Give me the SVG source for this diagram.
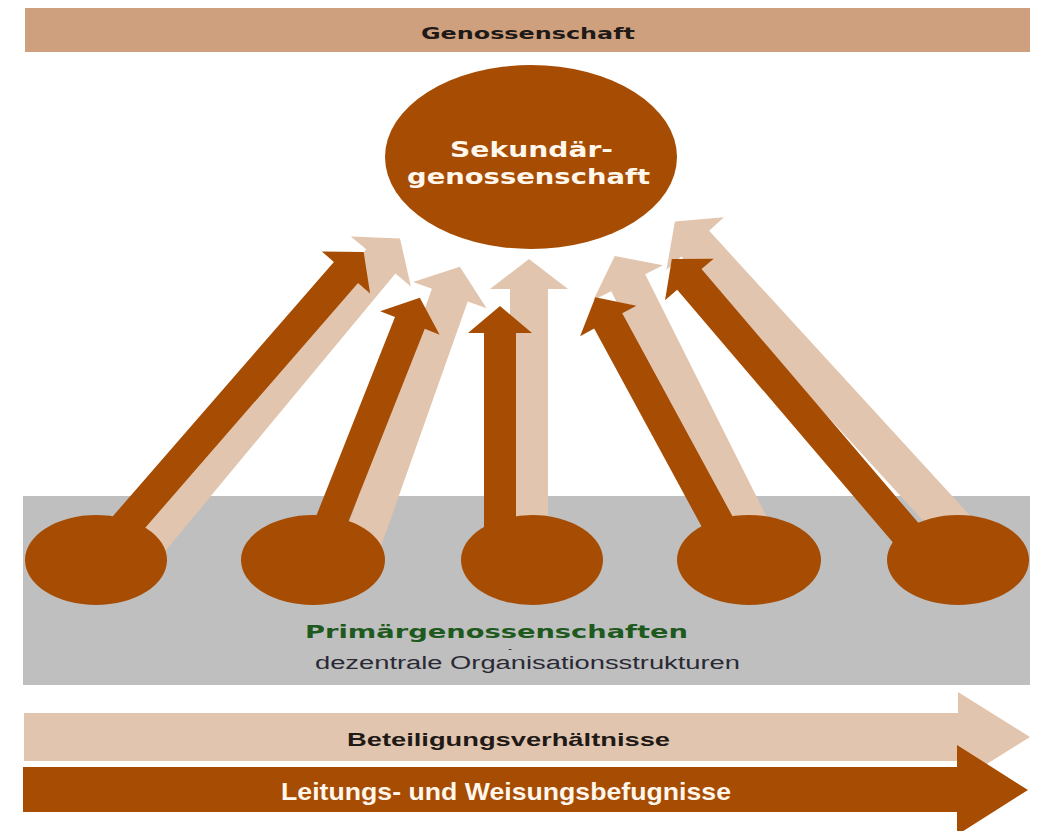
<svg xmlns="http://www.w3.org/2000/svg" width="1046" height="831" viewBox="0 0 1046 831">
<style>
.dark{fill:#A74C03}
.light{fill:#E2C5AE}
.node{fill:#A74C03}
.lbl{font-family:"DejaVu Sans","Liberation Sans",sans-serif;font-weight:bold;text-anchor:middle}
.arial{font-family:"Liberation Sans",Arial,sans-serif;text-anchor:middle}
</style>
<rect x="0" y="0" width="1046" height="831" fill="#ffffff"/>
<g id="genossenschaft">
<rect x="25" y="8" width="1005" height="44" fill="#CFA07D"/>
<text class="lbl" x="528" y="39" font-size="15" fill="#1f1a17" textLength="214" lengthAdjust="spacingAndGlyphs">Genossenschaft</text>
</g>
<g id="primaer-bereich">
<rect x="23" y="496" width="1007" height="189" fill="#BFBFBF"/>
</g>
<g id="connectors">
<polygon class="light" transform="translate(133,560) rotate(-50.3)" points="0,-19 388,-19 388,-39 418,0 388,39 388,19 0,19"/>
<polygon class="light" transform="translate(356,560) rotate(-70.5)" points="0,-19 281,-19 281,-39 311,0 281,39 281,19 0,19"/>
<polygon class="light" transform="translate(529,560) rotate(-90)" points="0,-19 271,-19 271,-39 301,0 271,39 271,19 0,19"/>
<polygon class="light" transform="translate(767,560) rotate(-116.6)" points="0,-19 310,-19 310,-39 340,0 310,39 310,19 0,19"/>
<polygon class="light" transform="translate(985,560) rotate(-132.5)" points="0,-19 429,-19 429,-39 459,0 429,39 429,19 0,19"/>
<polygon class="dark" transform="translate(96,560) rotate(-49)" points="0,-16 381,-16 381,-32 408,0 381,32 381,16 0,16"/>
<polygon class="dark" transform="translate(316,560) rotate(-68.4)" points="0,-16 255,-16 255,-32 282,0 255,32 255,16 0,16"/>
<polygon class="dark" transform="translate(500,560) rotate(-90)" points="0,-16 227,-16 227,-32 254,0 227,32 227,16 0,16"/>
<polygon class="dark" transform="translate(738,560) rotate(-118.5)" points="0,-16 272,-16 272,-32 299,0 272,32 272,16 0,16"/>
<polygon class="dark" transform="translate(929,560) rotate(-130.5)" points="0,-16 369,-16 369,-32 396,0 369,32 369,16 0,16"/>
</g>
<g id="sekundaergenossenschaft">
<ellipse class="node" cx="531" cy="157" rx="146" ry="92"/>
<text class="lbl" x="531.5" y="157" font-size="21" fill="#FFF6EC" textLength="163" lengthAdjust="spacingAndGlyphs">Sekundär-</text>
<text class="lbl" x="528.5" y="184" font-size="21" fill="#FFF6EC" textLength="243" lengthAdjust="spacingAndGlyphs">genossenschaft</text>
</g>
<g id="primaer-1"><ellipse class="node" cx="96" cy="560" rx="71" ry="45"/></g>
<g id="primaer-2"><ellipse class="node" cx="313" cy="560" rx="72" ry="45"/></g>
<g id="primaer-3"><ellipse class="node" cx="532" cy="560" rx="71" ry="45"/></g>
<g id="primaer-4"><ellipse class="node" cx="749" cy="560" rx="72" ry="45"/></g>
<g id="primaer-5"><ellipse class="node" cx="958" cy="560" rx="71" ry="45"/></g>
<g id="primaer-label">
<text class="lbl" x="496.5" y="638" font-size="18" fill="#1E5A1E" textLength="383" lengthAdjust="spacingAndGlyphs">Primärgenossenschaften</text>
<text class="arial" x="510" y="652" font-size="11" fill="#2a2a35">-</text>
<text class="arial" x="527.5" y="669" font-size="18" fill="#2a2a35" textLength="425" lengthAdjust="spacingAndGlyphs">dezentrale Organisationsstrukturen</text>
</g>
<g id="beteiligung">
<polygon class="light" points="24,713 958,713 958,692 1030,737 958,782 958,761 24,761"/>
<text class="arial" x="508.5" y="746" font-size="19" font-weight="bold" fill="#1f1a17" textLength="323" lengthAdjust="spacingAndGlyphs">Beteiligungsverhältnisse</text>
</g>
<g id="leitung">
<polygon class="dark" points="23,767 957,767 957,745 1028,790 957,835 957,812 23,812"/>
<text class="arial" x="506" y="800" font-size="24" font-weight="bold" fill="#FFF6EC" textLength="450" lengthAdjust="spacingAndGlyphs">Leitungs- und Weisungsbefugnisse</text>
</g>
</svg>
